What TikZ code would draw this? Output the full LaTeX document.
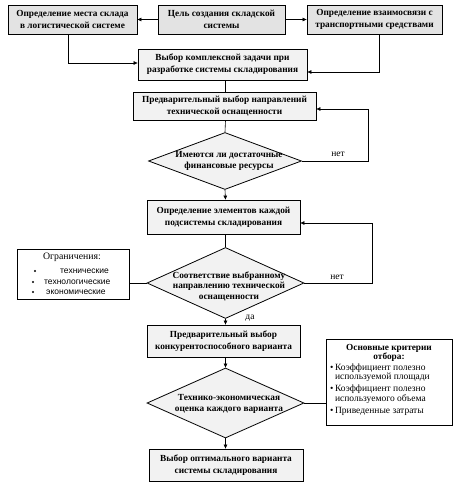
\documentclass[tikz,border=0pt]{standalone}
\usepackage{fontspec}
\setmainfont{Liberation Serif}
\setsansfont{Liberation Sans}
\usetikzlibrary{shapes.geometric,arrows.meta}
\begin{document}
\begin{tikzpicture}[x=1pt,y=-1pt,
  base/.style={draw, line width=0.8pt, inner sep=0pt, align=center,
    font=\fontsize{9.3}{12}\selectfont\bfseries},
  topbox/.style={base, fill=gray!22},
  box/.style={base, fill=gray!10},
  dia/.style={diamond, draw, line width=0.8pt, fill=gray!10, inner sep=0pt},
  diatext/.style={align=center, font=\fontsize{9.3}{11.5}\selectfont\bfseries},
  plain/.style={draw, line width=0.8pt, fill=white, inner sep=0pt},
  lbl/.style={font=\fontsize{9.5}{11}\selectfont},
  lst/.style={font=\sffamily\fontsize{8.5}{9}\selectfont, anchor=west, inner sep=0pt},
  arr/.style={-{Triangle[length=4pt,width=3.5pt]}, line width=0.6pt},
  ln/.style={line width=0.6pt}
]
\useasboundingbox (0,0) rectangle (455,491);

% top row
\node[topbox, minimum width=129pt, minimum height=29pt] (A) at (72.5,19.5) {Определение места склада\\в логистической системе};
\node[topbox, minimum width=127pt, minimum height=29pt] (B) at (221.5,19.5) {Цель создания складской\\системы};
\node[topbox, minimum width=135pt, minimum height=29pt] (C) at (374.5,19.5) {Определение взаимосвязи с\\транспортными средствами};
\node[box, minimum width=169pt, minimum height=31pt] (D) at (222.5,64.5) {Выбор комплексной задачи при\\разработке системы складирования};
\node[box, minimum width=183pt, minimum height=28pt] (E) at (224.5,106) {Предварительный выбор направлений\\технической оснащенности};

\node[dia, minimum width=153pt, minimum height=57pt] (F) at (225,161) {};
\node[diatext] (Ft) at (229,161) {Имеются ли достаточные\\финансовые ресурсы};

\node[box, minimum width=153pt, minimum height=34pt] (G) at (223.5,217) {Определение элементов каждой\\подсистемы складирования};

\node[dia, minimum width=157pt, minimum height=71pt] (H) at (225.5,283) {};
\node[diatext, font=\fontsize{9.3}{10.5}\selectfont\bfseries] (Ht) at (229,286) {Соответствие выбранному\\направлению технической\\оснащенности};

\node[plain, minimum width=112pt, minimum height=50pt] (I) at (73,274) {};
\node[font=\fontsize{9.8}{10}\selectfont] (It) at (72,257) {Ограничения:};
\node[lst] (I1) at (60,271) {технические};
\node[lst] (I2) at (44,282) {технологические};
\node[lst] (I3) at (46,292) {экономические};
\fill (I1.west -| 35,0) circle (1.2pt);
\fill (I2.west -| 33,0) circle (1.2pt);
\fill (I3.west -| 33,0) circle (1.2pt);

\node[box, minimum width=153pt, minimum height=32pt] (J) at (223.5,341) {Предварительный выбор\\конкурентоспособного варианта};

\node[dia, minimum width=157pt, minimum height=70pt] (K) at (225.5,403) {};
\node[diatext] (Kt) at (229,404) {Технико-экономическая\\оценка каждого варианта};

\node[plain, minimum width=126pt, minimum height=86pt] (L) at (389,382) {};
\node[font=\fontsize{9.3}{9.5}\selectfont\bfseries, align=center, anchor=north, inner sep=0pt] (Lt) at (389,344) {Основные критерии\\отбора:};
\node[font=\fontsize{9.5}{9.8}\selectfont, anchor=north west, inner sep=0pt] (Ll) at (330,363) {%
\begin{tabular}{@{}l@{\,}l@{}}
\textbullet & Коэффициент полезно\\
 & используемой площади\\[2pt]
\textbullet & Коэффициент полезно\\
 & используемого объема\\[2pt]
\textbullet & Приведенные затраты
\end{tabular}};

\node[box, minimum width=154pt, minimum height=32pt] (M) at (226,465) {Выбор оптимального варианта\\системы складирования};

% axis
\coordinate (ax) at (225.5,0);

% connectors
\draw[arr] (B.west) -- (A.east);
\draw[arr] (B.east) -- (C.west);
\draw[arr] ([xshift=-4.5pt]A.south) |- ([yshift=1.5pt]D.west);
\draw[arr] ([xshift=4.5pt]C.south) |- ([yshift=-7.5pt]D.east);
\draw[ln] (D.south -| ax) -- (E.north -| ax);
\draw[ln] (E.south -| ax) -- (F.north);
\draw[arr] (F.south) -- (G.north -| ax);
\coordinate (Fr) at (368,161);
\draw[arr] (F.east) -- (Fr) |- ([yshift=-3pt]E.east);
\node[lbl] (no1) at (338,154) {нет};
\draw[ln] (G.south -| ax) -- (H.north);
\coordinate (Hr) at (372,283);
\draw[arr] (H.east) -- (Hr) |- ([yshift=-6pt]G.east);
\node[lbl] (no2) at (337,277) {нет};
\draw[ln] (H.west) -- (H.west -| I.east);
\draw[arr] (H.south) -- (J.north -| ax);
\node[lbl] (yes) at (250,318) {да};
\draw[arr] (J.south -| ax) -- (K.north);
\draw[ln] (K.east) -- (K.east -| L.west);
\draw[arr] (K.south) -- (M.north -| ax);
\end{tikzpicture}
\end{document}
